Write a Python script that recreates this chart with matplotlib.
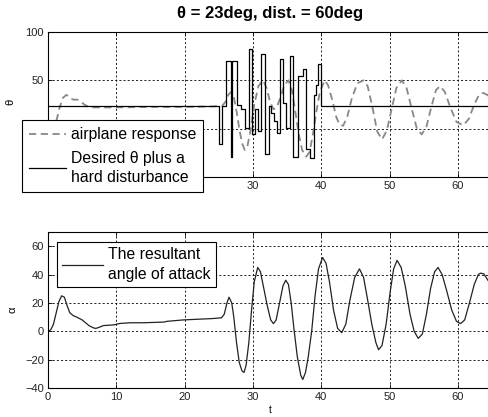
import numpy as np
import matplotlib
matplotlib.use('Agg')
import matplotlib.pyplot as plt

plt.rcParams['font.family'] = ['Liberation Sans', 'DejaVu Sans']

# airplane response (theta)
t_resp = [0, 0.5, 1.0, 1.3, 1.7, 2.2, 2.7, 3.2, 3.7, 4.3, 4.8, 5.3, 5.8, 6.5, 8, 10, 15, 20, 24, 25.5,
          26.0, 26.4, 26.8, 27.2, 27.6, 28.0, 28.4, 28.8, 29.2, 29.7, 30.2, 30.8, 31.5, 32.0, 32.5,
          33.0, 33.5, 34.0, 34.6, 35.2, 35.7, 36.2, 36.7, 37.2, 37.8, 38.3, 38.8, 39.3, 39.8, 40.5,
          41.0, 41.6, 42.2, 42.7, 43.2, 43.8, 44.5, 45.3, 46.2, 46.8, 47.5, 48.2, 48.9, 49.6, 50.3,
          51.0, 51.8, 52.5, 53.2, 54.0, 54.7, 55.4, 56.1, 56.8, 57.4, 58.1, 58.9, 59.8, 60.8, 61.6,
          62.4, 63.1, 63.7, 64.3, 65]
theta_resp = [0, 1, 5, 10, 22, 32, 35, 32, 30, 30, 28, 25, 23, 22, 22, 22, 22.5, 22.5, 23, 23.5,
              28, 35, 38, 33, 18, 0, -15, -22, -18, 0, 25, 44, 50, 42, 28,
              20, 22, 32, 45, 50, 40, 18, -5, -22, -29, -24, -5, 18, 38, 50,
              45, 30, 12, 4, 3, 12, 32, 47, 50, 44, 22, -3, -11, -2, 20,
              42, 50, 42, 22, 0, -6, 2, 22, 40, 44, 38, 22, 7, 3.5, 10,
              25, 35, 37, 35, 30]

# desired theta plus disturbance (step values, each held until the next time)
t_dist = [0, 25.1, 25.4, 26.0, 26.8, 27.0, 27.7, 28.2, 28.9, 29.4, 29.8, 30.3, 30.7, 31.2, 31.8,
          32.3, 32.7, 33.1, 33.5, 34.0, 34.4, 34.8, 35.4, 35.8, 36.6, 37.4, 37.7, 38.4, 38.9,
          39.2, 39.5, 40.0, 65]
theta_dist = [23, -16, 23, 70, -29, 70, 25, 20, 1, 82, -6, 20, -2, 77, -26,
              23, 16, 8, -4, 72, 27, 1, 75, -29, 55, 62, -21, -30, 35,
              45, 67, 23, 23]

# resultant angle of attack
t_alpha = [0, 0.4, 0.8, 1.2, 1.6, 2.0, 2.4, 2.8, 3.2, 3.7, 4.2, 5.0, 5.5, 6.0, 6.6, 7.0, 7.6, 8.1,
           9.6, 10.5, 12, 14, 17, 17.4, 19.8, 22, 24.2, 25.4, 25.8, 26.2, 26.5, 26.9, 27.2, 27.6,
           28.0, 28.4, 28.7, 29.0, 29.4, 29.8, 30.2, 30.7, 31.1, 31.6, 32.1, 32.6, 33.0, 33.4, 33.9,
           34.4, 34.8, 35.2, 35.6, 36.0, 36.5, 37.0, 37.3, 37.7, 38.1, 38.6, 39.1, 39.6, 40.2, 40.7,
           41.2, 41.8, 42.4, 43.0, 43.6, 44.2, 44.9, 45.6, 46.2, 46.8, 47.4, 48.0, 48.4, 48.9, 49.5,
           50.1, 50.6, 51.1, 51.7, 52.3, 53.0, 53.6, 54.2, 54.8, 55.4, 56.0, 56.6, 57.1, 57.7, 58.4,
           59.1, 59.8, 60.4, 61.0, 61.7, 62.4, 63.0, 63.3, 63.8, 64.4, 65]
alpha = [0, 1, 5, 13, 21, 25, 24, 18, 13, 11, 10, 8, 6, 4, 2.5, 2, 3, 4,
         4.5, 5.5, 6, 6, 6.5, 7, 8, 8.5, 9, 9.5, 12, 20, 24, 20, 10, -8,
         -22, -28, -29, -24, -8, 15, 35, 45, 42, 30, 18, 8, 5.4, 8, 20,
         32, 36, 33, 20, 2, -18, -31, -34, -29, -18, 0, 25, 44, 52, 48,
         35, 15, 2, -1, 5, 22, 38, 44, 38, 22, 5, -8, -13, -10, 5,
         28, 44, 50, 45, 32, 12, 0, -5, -2, 12, 30, 42, 45, 40, 28,
         15, 7, 5.4, 8, 20, 33, 40, 41, 40.5, 36, 32]

W, H = 488, 417
fig = plt.figure(figsize=(W / 100, H / 100), dpi=100)

def style(ax, ylim, yticks):
    ax.set_xlim(0, 65)
    ax.set_ylim(*ylim)
    ax.set_xticks([0, 10, 20, 30, 40, 50, 60])
    ax.set_yticks(yticks)
    ax.tick_params(direction='in', length=3, width=0.6, labelsize=8, top=True, right=True,
                   labelcolor='#222222', pad=3)
    ax.grid(True, color='black', linestyle=(0, (2.5, 2.5)), linewidth=0.6)
    for s in ax.spines.values():
        s.set_linewidth(0.8)

# top panel
ax1 = fig.add_axes([48 / W, 1 - 177 / H, 444 / W, 145 / H])
ax1.plot(t_resp, theta_resp, color='#888888', linestyle=(0, (4, 2.5)), linewidth=1.3,
         label='airplane response')
ax1.step(t_dist, theta_dist, where='post', color='black', linewidth=0.9,
         label='Desired \u03b8 plus a\nhard disturbance')
style(ax1, (-50, 100), [-50, 0, 50, 100])
# labels that sit under the legend box are not visible in the original
ax1.set_xticklabels(['', '', '', '30', '40', '50', '60'])
ax1.set_yticklabels(['', '', '50', '100'])
ax1.set_title('\u03b8 = 23deg, dist. = 60deg', fontsize=12, fontweight='bold', pad=10)
ax1.set_ylabel('\u03b8', fontsize=8)
ax1.yaxis.set_label_coords(-33 / 444, 0.52)
leg1 = ax1.legend(loc='upper left', bbox_to_anchor=(22 / W, 1 - 120 / H),
                  bbox_transform=fig.transFigure, fontsize=11.3, frameon=True, fancybox=False,
                  edgecolor='black', framealpha=1, handlelength=2.35, borderpad=0.45,
                  labelspacing=0.55, handletextpad=0.3, borderaxespad=0)
for txt in leg1.get_texts():
    txt.set_linespacing(1.35)
leg1.get_frame().set_linewidth(0.8)
leg1.set_zorder(10)

# bottom panel
ax2 = fig.add_axes([48 / W, 1 - 388 / H, 444 / W, 156 / H])
ax2.plot(t_alpha, alpha, color='#222222', linewidth=0.9, label='The resultant\nangle of attack')
style(ax2, (-40, 70), [-40, -20, 0, 20, 40, 60])
ax2.set_ylabel('\u03b1', fontsize=8)
ax2.yaxis.set_label_coords(-31 / 444, 0.5)
ax2.set_xlabel('t', fontsize=7, labelpad=2)
leg2 = ax2.legend(loc='upper left', bbox_to_anchor=(57 / W, 1 - 242 / H),
                  bbox_transform=fig.transFigure, fontsize=11.3, frameon=True, fancybox=False,
                  edgecolor='black', framealpha=1, handlelength=2.6, borderpad=0.35,
                  handletextpad=0.3, borderaxespad=0)
for txt in leg2.get_texts():
    txt.set_linespacing(1.35)
leg2.get_frame().set_linewidth(0.8)

fig.savefig('out.png', dpi=100)
